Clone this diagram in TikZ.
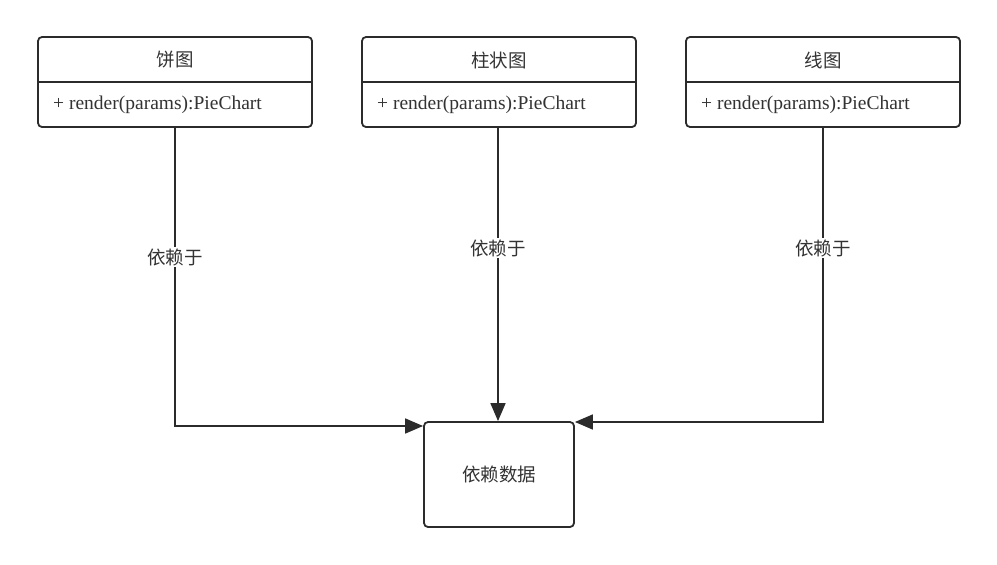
\documentclass[tikz,border=0pt]{standalone}
\usepackage{fontspec}
\setmainfont{Liberation Serif}
\newfontfamily\cjk{Noto Sans CJK SC}
\usetikzlibrary{arrows.meta}
\definecolor{ln}{HTML}{2B2B2B}
\definecolor{tx}{HTML}{333333}
\begin{document}
\begin{tikzpicture}[x=1pt,y=-1pt,
  boxline/.style={draw=ln,line width=1.8pt,rounded corners=4pt},
  conn/.style={draw=ln,line width=1.6pt,-{Triangle[length=18pt,width=15pt]}},
  ttl/.style={font=\cjk\fontsize{18.5}{22}\selectfont,text=tx},
  meth/.style={font=\fontsize{19.5}{22}\selectfont,text=tx,anchor=west,inner sep=0pt},
  lbl/.style={font=\cjk\fontsize{18.5}{22}\selectfont,text=tx,fill=white,inner sep=1pt}]
\useasboundingbox[fill=white] (0,0) rectangle (997,565);
% class boxes
\foreach \n/\xa/\t in {a/38/饼图, b/362/柱状图, c/686/线图}{
  \pgfmathsetmacro{\xb}{\xa+274}
  \pgfmathsetmacro{\xm}{\xa+137}
  \draw[boxline] (\xa,37) rectangle (\xb,127);
  \draw[draw=ln,line width=1.8pt] (\xa,82) -- (\xb,82);
  \node[ttl] (\n t) at (\xm,60) {\t};
  \node[meth] (\n m) at (\xa+15,105) {+ render(params):PieChart};
  \coordinate (\n) at (\xm,127);
}
% target box
\node[boxline,minimum width=150pt,minimum height=105pt,font=\cjk\fontsize{18.5}{22}\selectfont,text=tx] (d) at (499,474.5) {依赖数据};
\coordinate (ac) at (175,127);
\coordinate (bc) at (498,127);
\coordinate (cc) at (823,127);
\coordinate (ae) at (175,426);
\coordinate (ce) at (823,422);
\draw[conn] (ac) -- (ae) -- (d.north west |- ae);
\draw[conn] (bc) -- (bc |- d.north);
\draw[conn] (cc) -- (ce) -- (d.north east |- ce);
\node[lbl] (la) at (175,257) {依赖于};
\node[lbl] (lb) at (498,248) {依赖于};
\node[lbl] (lc) at (823,248) {依赖于};
\end{tikzpicture}
\end{document}
